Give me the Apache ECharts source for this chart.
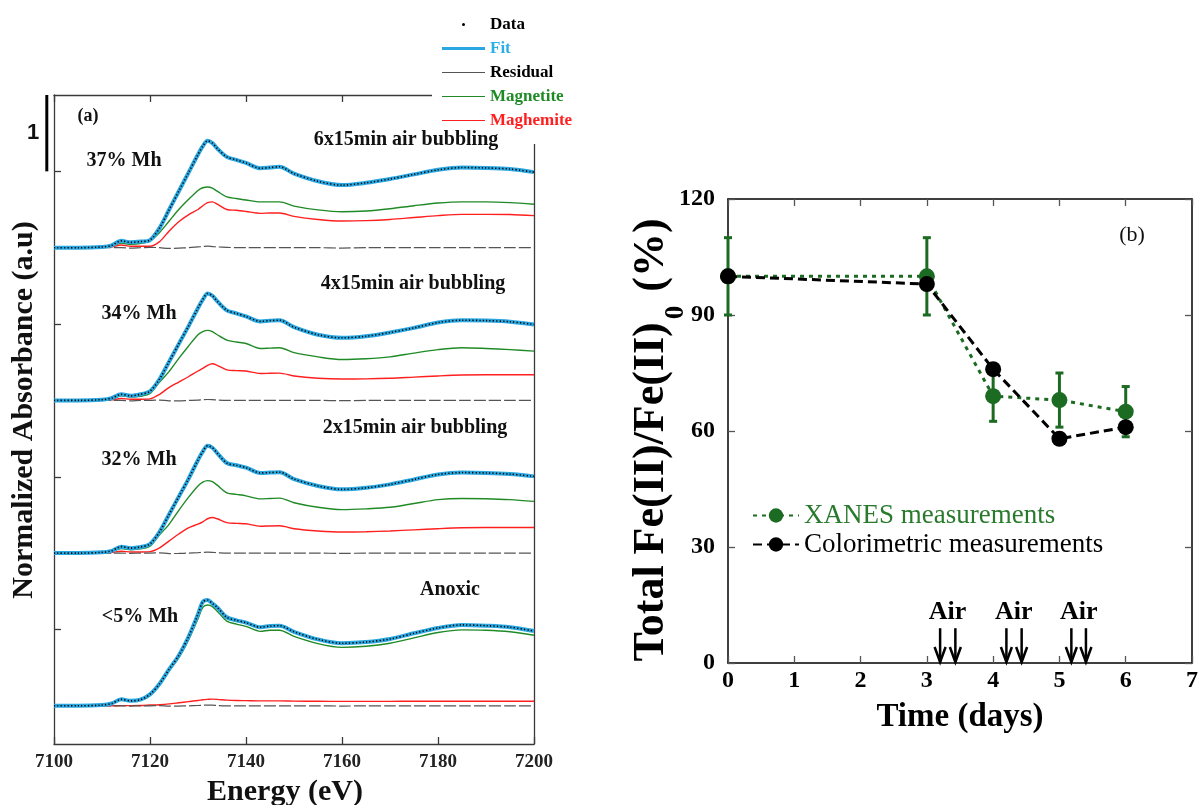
<!DOCTYPE html>
<html>
<head>
<meta charset="utf-8">
<script src="https://cdn.jsdelivr.net/npm/echarts@6.0.0/dist/echarts.min.js"></script>
<style>
html,body{margin:0;padding:0;background:#fff;}
#chart{width:1201px;height:805px;}
</style>
</head>
<body>
<div id="chart"></div>
<script>
// ---------- Panel (a): XANES spectra (normalized, each relative to its own baseline) ----------
const energy = [7100,7105,7110,7112,7114,7116,7118,7120,7122,7124,7126,7128,7130,7131,7132,7133,7134,7136,7138,7140,7143,7145,7147,7150,7155,7160,7165,7170,7175,7180,7185,7190,7195,7200];

// 6x15min air bubbling (37% Mh)
const fit6  = [0,0,0.01,0.03,0.09,0.07,0.08,0.10,0.26,0.50,0.74,0.98,1.22,1.33,1.40,1.37,1.30,1.19,1.15,1.11,1.04,1.05,1.06,0.97,0.87,0.82,0.85,0.90,0.96,1.02,1.05,1.045,1.03,0.99];
const mt6   = [0,0,0.005,0.02,0.06,0.045,0.055,0.09,0.20,0.35,0.50,0.63,0.75,0.785,0.795,0.78,0.74,0.665,0.645,0.625,0.60,0.60,0.60,0.545,0.495,0.47,0.48,0.51,0.55,0.585,0.60,0.60,0.59,0.57];
const mh6   = [0,0,0.005,0.01,0.035,0.02,0.02,0.02,0.08,0.22,0.34,0.43,0.50,0.55,0.59,0.60,0.57,0.50,0.49,0.475,0.45,0.455,0.455,0.41,0.37,0.35,0.355,0.37,0.395,0.42,0.437,0.437,0.435,0.42];
const res6  = [0,0,0,0,0,-0.005,0,0.005,0,-0.01,-0.005,0,0.01,0.015,0.02,0.015,0.01,0.005,0,0,0,0,0,0,0,-0.005,0,0,0,0,0,0,0,0];

// 4x15min air bubbling (34% Mh)
const fit4  = [0,0,0.01,0.03,0.08,0.06,0.08,0.12,0.28,0.51,0.74,0.97,1.21,1.32,1.40,1.37,1.30,1.18,1.14,1.10,1.035,1.045,1.05,0.96,0.86,0.82,0.84,0.89,0.95,1.02,1.05,1.045,1.03,0.995];
const mt4   = [0,0,0.005,0.02,0.06,0.045,0.055,0.09,0.24,0.38,0.55,0.71,0.86,0.90,0.917,0.90,0.86,0.79,0.765,0.745,0.68,0.685,0.69,0.625,0.57,0.535,0.545,0.57,0.62,0.665,0.69,0.68,0.665,0.646];
const mh4   = [0,0,0.003,0.008,0.025,0.015,0.015,0.02,0.08,0.17,0.24,0.31,0.385,0.42,0.46,0.48,0.46,0.40,0.39,0.385,0.352,0.356,0.358,0.32,0.29,0.28,0.282,0.29,0.305,0.32,0.332,0.336,0.336,0.336];
const res4  = [0,0,0,0,0,-0.005,0,0,0.005,-0.005,-0.005,0,0.005,0.01,0.012,0.01,0.005,0,0,0,0,0,0,0,0,-0.004,0,0,0,0,0,0,0,0];

// 2x15min air bubbling (32% Mh)
const fit2  = [0,0,0.01,0.03,0.085,0.065,0.08,0.12,0.28,0.51,0.74,0.97,1.22,1.33,1.405,1.38,1.31,1.18,1.15,1.12,1.05,1.055,1.06,0.97,0.88,0.835,0.855,0.90,0.965,1.03,1.055,1.05,1.035,1.005];
const mt2   = [0,0,0.005,0.02,0.06,0.045,0.055,0.09,0.24,0.38,0.56,0.73,0.88,0.93,0.95,0.935,0.89,0.79,0.77,0.75,0.71,0.715,0.72,0.66,0.60,0.57,0.58,0.60,0.65,0.70,0.716,0.712,0.70,0.677];
const mh2   = [0,0,0.003,0.008,0.025,0.015,0.015,0.02,0.07,0.16,0.25,0.33,0.38,0.41,0.45,0.467,0.45,0.40,0.39,0.384,0.352,0.356,0.358,0.32,0.29,0.276,0.28,0.29,0.305,0.32,0.332,0.336,0.336,0.336];
const res2  = [0,0,0,0,0,-0.004,0,0,0.004,-0.006,-0.004,0,0.006,0.01,0.012,0.01,0.006,0,0,0,0,0,0,0,0,-0.004,0,0,0,0,0,0,0,0];

// Anoxic (<5% Mh)
const fitAx = [0,0,0.01,0.03,0.085,0.065,0.08,0.15,0.29,0.48,0.66,0.90,1.20,1.36,1.385,1.34,1.29,1.16,1.12,1.09,1.03,1.045,1.05,0.97,0.87,0.82,0.835,0.875,0.95,1.02,1.06,1.05,1.03,0.98];
const mtAx  = [0,0,0.01,0.03,0.08,0.06,0.075,0.14,0.28,0.46,0.63,0.86,1.14,1.29,1.32,1.30,1.24,1.11,1.07,1.04,0.975,0.99,0.99,0.91,0.815,0.765,0.78,0.82,0.89,0.96,0.995,0.99,0.97,0.925];
const mhAx  = [0,0,0,0,0.003,0.003,0.005,0.01,0.015,0.025,0.04,0.055,0.07,0.08,0.085,0.088,0.085,0.075,0.07,0.068,0.065,0.065,0.065,0.062,0.06,0.058,0.058,0.058,0.06,0.06,0.06,0.06,0.06,0.06];
const resAx = [0,0,0,0,0,-0.003,0,0,0.003,-0.004,-0.003,0,0.004,0.008,0.01,0.008,0.004,0,0,0,0,0,0,0,0,-0.003,0,0,0,0,0,0,0,0];

// scale bar: 1 absorbance unit, just left of the frame
const scaleBar = [[7098.5, 7, 8]];

// ---------- Panel (b): Fe(II) ----------
const days = [0,3,4,5,6];
const xanes = [100,100,69,68,65];
const xanesErr = [10,10,6.5,7,6.5];
const colorimetric = [100,98,76,58,61];
const airDays = [3.2,3.43,4.2,4.43,5.18,5.4];
const airLabelDays = [3.31,4.31,5.29];

// ---------- styles ----------
const SERIF = "'Liberation Serif','DejaVu Serif',serif";
const C_FIT = '#2aa7e0', C_MT = '#1f8a26', C_MH = '#ff1f1f', C_RES = '#555555';
const C_GREEN_B = '#1c6b22';
const AX_A = '#3a3a3a';

const pairs = (arr) => energy.map((e, i) => [e, arr[i]]);

function spectrumSeries(yIdx, fit, mt, mh, res) {
  const base = { type: 'line', xAxisIndex: 0, yAxisIndex: yIdx, showSymbol: false, symbol: 'none', smooth: 0.3, silent: true, animation: false };
  return [
    Object.assign({}, base, { name: 'Magnetite', data: pairs(mt), z: 3, itemStyle: { color: C_MT }, lineStyle: { color: C_MT, width: 1.4 } }),
    Object.assign({}, base, { name: 'Maghemite', data: pairs(mh), z: 3, itemStyle: { color: C_MH }, lineStyle: { color: C_MH, width: 1.4 } }),
    Object.assign({}, base, { name: 'Residual', data: pairs(res), z: 3, itemStyle: { color: C_RES }, lineStyle: { color: C_RES, width: 1.2, type: [12, 3] } }),
    Object.assign({}, base, { name: 'Fit', data: pairs(fit), z: 4, itemStyle: { color: C_FIT }, lineStyle: { color: C_FIT, width: 4 } }),
    Object.assign({}, base, { name: 'Data', data: pairs(fit), z: 5, itemStyle: { color: '#000' }, lineStyle: { color: '#000', width: 1.6, type: [1.2, 2.2] } })
  ];
}

const specAxis = (offset) => ({ gridIndex: 0, type: 'value', show: false, min: -0.5 - offset, max: 8 - offset, position: 'left' });

const iconDot   = 'path://M0,0M43,14M20,7a1.5,1.5 0 1,0 3,0a1.5,1.5 0 1,0 -3,0Z';
const iconThick = 'path://M0,0M43,14M0,5.5H43V8.5H0Z';
const iconThin  = 'path://M0,0M43,14M0,6.4H43V7.6H0Z';

const txt = (text, x, y, size, extra) => ({
  type: 'text', x: x, y: y, z: 100,
  style: Object.assign({ text: text, font: 'bold ' + size + 'px ' + SERIF, fill: '#111', textAlign: 'center', textVerticalAlign: 'middle' }, extra || {})
});

const chart = echarts.init(document.getElementById('chart'), null, { renderer: 'canvas' });

const option = {
  backgroundColor: '#fff',
  animation: false,
  grid: [
    { left: 54, right: 667, top: 95, bottom: 61, containLabel: false, outerBoundsMode: 'none' },
    { left: 728, right: 9, top: 199, bottom: 142, containLabel: false, outerBoundsMode: 'none' }
  ],
  xAxis: [
    { gridIndex: 0, type: 'value', min: 7100, max: 7200, interval: 20, position: 'bottom',
      axisLine: { show: true, onZero: false, lineStyle: { color: AX_A, width: 1.3 } },
      axisTick: { show: true, inside: true, length: 7, lineStyle: { color: AX_A, width: 1.3 } },
      axisLabel: { show: true, margin: 9, color: '#222', fontFamily: SERIF, fontWeight: 'bold', fontSize: 19,
        formatter: (v) => String(v) },
      splitLine: { show: false },
      name: 'Energy (eV)', nameLocation: 'middle', nameGap: 33,
      nameTextStyle: { fontFamily: SERIF, fontWeight: 'bold', fontSize: 30, color: '#111', padding: [0, 18, 0, 0] } },
    { gridIndex: 0, type: 'value', min: 7100, max: 7200, interval: 20, position: 'top',
      axisLine: { show: true, onZero: false, lineStyle: { color: AX_A, width: 1.3 } },
      axisTick: { show: true, inside: true, length: 7, lineStyle: { color: AX_A, width: 1.3 } },
      axisLabel: { show: false }, splitLine: { show: false } },
    { gridIndex: 1, type: 'value', min: 0, max: 7, interval: 1, position: 'bottom',
      axisLine: { show: true, onZero: false, lineStyle: { color: '#000', width: 1.5 } },
      axisTick: { show: true, inside: true, length: 7, lineStyle: { color: '#555', width: 1.3 } },
      axisLabel: { show: true, margin: 6, color: '#000', fontFamily: SERIF, fontWeight: 'bold', fontSize: 24 },
      splitLine: { show: false },
      name: 'Time (days)', nameLocation: 'middle', nameGap: 38,
      nameTextStyle: { fontFamily: SERIF, fontWeight: 'bold', fontSize: 33, color: '#000' } },
    { gridIndex: 1, type: 'value', min: 0, max: 7, interval: 1, position: 'top',
      axisLine: { show: true, onZero: false, lineStyle: { color: '#000', width: 1.5 } },
      axisTick: { show: true, inside: true, length: 7, lineStyle: { color: '#555', width: 1.3 } },
      axisLabel: { show: false }, splitLine: { show: false } }
  ],
  yAxis: [
    { gridIndex: 0, type: 'value', min: -0.5, max: 8, position: 'left',
      axisLine: { show: true, onZero: false, lineStyle: { color: AX_A, width: 1.3 } },
      axisTick: { show: true, inside: true, length: 7, customValues: [1, 3, 5, 7], lineStyle: { color: AX_A, width: 1.3 } },
      axisLabel: { show: false, customValues: [1, 3, 5, 7] },
      splitLine: { show: false },
      name: 'Normalized Absorbance (a.u)', nameLocation: 'middle', nameGap: 15,
      nameTextStyle: { fontFamily: SERIF, fontWeight: 'bold', fontSize: 30, color: '#111', padding: [0, 0, 0, 19] } },
    { gridIndex: 0, type: 'value', min: -0.5, max: 8, position: 'right',
      axisLine: { show: true, onZero: false, lineStyle: { color: AX_A, width: 1.3 } },
      axisTick: { show: false }, axisLabel: { show: false }, splitLine: { show: false } },
    specAxis(2),
    specAxis(4),
    specAxis(6),
    { gridIndex: 1, type: 'value', min: 0, max: 120, interval: 30, position: 'left',
      axisLine: { show: true, onZero: false, lineStyle: { color: '#000', width: 1.5 } },
      axisTick: { show: true, inside: true, length: 7, lineStyle: { color: '#555', width: 1.3 } },
      axisLabel: { show: true, margin: 13, color: '#000', fontFamily: SERIF, fontWeight: 'bold', fontSize: 24 },
      splitLine: { show: false },
      name: '{a|Total Fe(II)/Fe(II)}{s|0}{a| (%)}', nameLocation: 'middle', nameGap: 38, nameMoveOverlap: false,
      nameTextStyle: {
        padding: [0, 18, 0, 0],
        rich: {
          a: { fontFamily: SERIF, fontWeight: 'bold', fontSize: 44, color: '#000', lineHeight: 60, verticalAlign: 'top' },
          s: { fontFamily: SERIF, fontWeight: 'bold', fontSize: 27, color: '#000', lineHeight: 27, verticalAlign: 'bottom', padding: [0, 3, 0, 3] }
        }
      } },
    { gridIndex: 1, type: 'value', min: 0, max: 120, interval: 30, position: 'right',
      axisLine: { show: true, onZero: false, lineStyle: { color: '#000', width: 1.5 } },
      axisTick: { show: true, inside: true, length: 7, lineStyle: { color: '#555', width: 1.3 } },
      axisLabel: { show: false }, splitLine: { show: false } }
  ],
  legend: [
    {
      orient: 'vertical', left: 432, top: 0, z: 20,
      backgroundColor: '#fff', padding: [16, 40, 15, 10],
      itemWidth: 43, itemHeight: 14, itemGap: 7, selectedMode: false,
      textStyle: { fontFamily: SERIF, fontWeight: 'bold', fontSize: 17, lineHeight: 16 },
      data: [
        { name: 'Data', icon: iconDot, itemStyle: { color: '#000', borderWidth: 0 }, textStyle: { color: '#000' } },
        { name: 'Fit', icon: iconThick, itemStyle: { color: C_FIT, borderWidth: 0 }, textStyle: { color: '#2ab0e6' } },
        { name: 'Residual', icon: iconThin, itemStyle: { color: C_RES, borderWidth: 0 }, textStyle: { color: '#000' } },
        { name: 'Magnetite', icon: iconThin, itemStyle: { color: C_MT, borderWidth: 0 }, textStyle: { color: C_MT } },
        { name: 'Maghemite', icon: iconThin, itemStyle: { color: C_MH, borderWidth: 0 }, textStyle: { color: C_MH } }
      ]
    },
    {
      orient: 'vertical', left: 752, top: 502, padding: 0,
      itemWidth: 46, itemHeight: 18, itemGap: 2, selectedMode: false,
      textStyle: { fontFamily: SERIF, fontSize: 27, lineHeight: 25 },
      data: [
        { name: 'XANES measurements', textStyle: { color: '#2a7a2e' } },
        { name: 'Colorimetric measurements', textStyle: { color: '#000' } }
      ]
    }
  ],
  graphic: [
    txt('(a)', 88, 116, 18),
    txt('6x15min air bubbling', 406, 140, 20),
    txt('37% Mh', 124, 161, 20),
    txt('4x15min air bubbling', 413, 284, 20),
    txt('34% Mh', 139, 314, 20),
    txt('2x15min air bubbling', 415, 428, 20),
    txt('32% Mh', 139, 460, 20),
    txt('Anoxic', 450, 590, 20),
    txt('<5% Mh', 140, 617, 20),
    txt('1', 33, 133, 22, { font: "bold 22px 'Liberation Sans','DejaVu Sans',sans-serif" }),
    txt('(b)', 1132, 235, 22, { font: 'normal 22px ' + SERIF })
  ],
  series: [].concat(
    spectrumSeries(0, fitAx, mtAx, mhAx, resAx),
    spectrumSeries(2, fit2, mt2, mh2, res2),
    spectrumSeries(3, fit4, mt4, mh4, res4),
    spectrumSeries(4, fit6, mt6, mh6, res6),
    [
      // scale bar (1 absorbance unit) drawn just outside the left axis
      { name: 'scalebar', type: 'custom', xAxisIndex: 0, yAxisIndex: 0, clip: false, silent: true, z: 6,
        data: scaleBar,
        renderItem: function (params, api) {
          const a = api.coord([api.value(0), api.value(1)]), b = api.coord([api.value(0), api.value(2)]);
          return { type: 'line', shape: { x1: a[0], y1: a[1], x2: b[0], y2: b[1] }, style: { stroke: '#000', lineWidth: 3 } };
        } },
      // error bars (XANES)
      { name: 'err', type: 'custom', xAxisIndex: 2, yAxisIndex: 5, z: 3, silent: true, clip: false,
        data: days.map((d, i) => [d, xanes[i] - xanesErr[i], xanes[i] + xanesErr[i]]),
        encode: { x: 0, y: [1, 2] },
        renderItem: function (params, api) {
          const x = api.value(0), lo = api.value(1), hi = api.value(2);
          const p1 = api.coord([x, lo]), p2 = api.coord([x, hi]);
          const cw = 4, st = { stroke: C_GREEN_B, lineWidth: 3 };
          return { type: 'group', children: [
            { type: 'line', shape: { x1: p1[0], y1: p1[1], x2: p2[0], y2: p2[1] }, style: st },
            { type: 'line', shape: { x1: p1[0] - cw, y1: p1[1], x2: p1[0] + cw, y2: p1[1] }, style: st },
            { type: 'line', shape: { x1: p2[0] - cw, y1: p2[1], x2: p2[0] + cw, y2: p2[1] }, style: st }
          ] };
        } },
      { name: 'XANES measurements', type: 'line', xAxisIndex: 2, yAxisIndex: 5, z: 4,
        data: days.map((d, i) => [d, xanes[i]]),
        symbol: 'circle', symbolSize: 16, showSymbol: true,
        itemStyle: { color: C_GREEN_B }, lineStyle: { color: C_GREEN_B, width: 3, type: [4, 5] } },
      { name: 'Colorimetric measurements', type: 'line', xAxisIndex: 2, yAxisIndex: 5, z: 5,
        data: days.map((d, i) => [d, colorimetric[i]]),
        symbol: 'circle', symbolSize: 16, showSymbol: true,
        itemStyle: { color: '#000' }, lineStyle: { color: '#000', width: 3, type: [9, 5] } },
      // air bubbling arrows
      { name: 'air', type: 'custom', xAxisIndex: 2, yAxisIndex: 5, z: 6, silent: true, clip: false,
        data: airDays.map(d => [d]),
        renderItem: function (params, api) {
          const x = api.value(0);
          const top = api.coord([x, 9]), bot = api.coord([x, 0]);
          const st = { stroke: '#000', lineWidth: 2.5, fill: null };
          return { type: 'group', children: [
            { type: 'line', shape: { x1: top[0], y1: top[1], x2: bot[0], y2: bot[1] - 1 }, style: st },
            { type: 'polyline', shape: { points: [[bot[0] - 5.5, bot[1] - 16], [bot[0], bot[1] - 1], [bot[0] + 5.5, bot[1] - 16]] }, style: st }
          ] };
        } },
      { name: 'airText', type: 'custom', xAxisIndex: 2, yAxisIndex: 5, z: 6, silent: true, clip: false,
        data: airLabelDays.map(d => [d]),
        renderItem: function (params, api) {
          const p = api.coord([api.value(0), 13.2]);
          return { type: 'text', x: p[0], y: p[1],
            style: { text: 'Air', font: 'bold 26px ' + SERIF, fill: '#000', textAlign: 'center', textVerticalAlign: 'middle' } };
        } }
    ]
  )
};

chart.setOption(option);
</script>
</body>
</html>
